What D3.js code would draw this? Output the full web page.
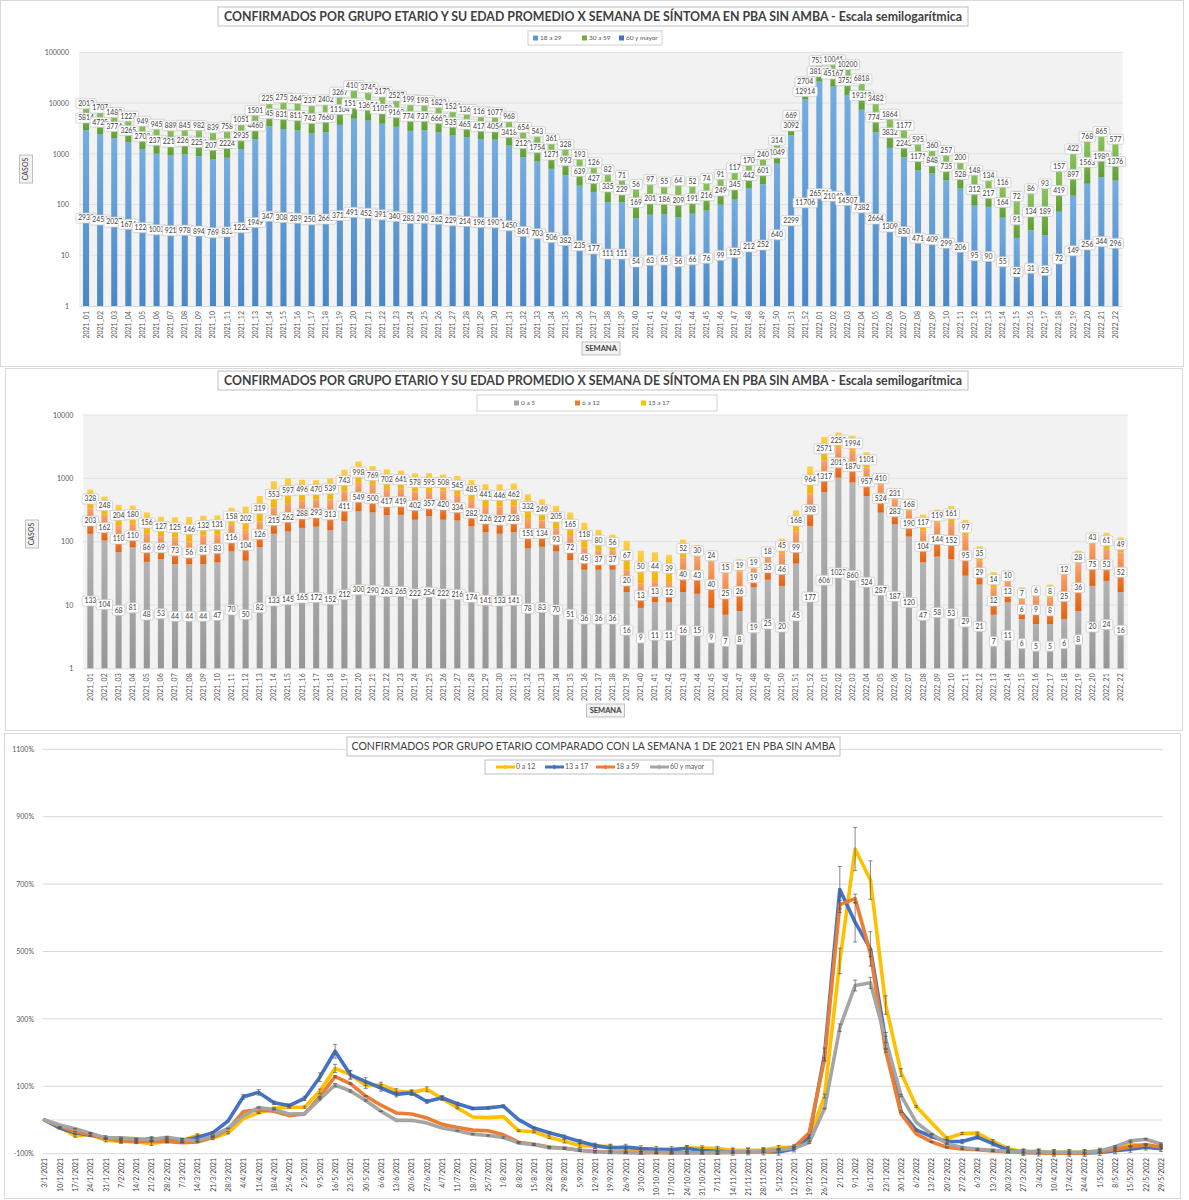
<!DOCTYPE html>
<html>
<head>
<meta charset="utf-8">
<script src="https://cdn.jsdelivr.net/npm/d3@7"></script>
<style>
body { margin: 0; background: #fff; }
svg { display: block; font-family: Lato, "Open Sans", sans-serif; }
</style>
</head>
<body>
<div id="chart"></div>
<script>
var weeks = ["2021_01","2021_02","2021_03","2021_04","2021_05","2021_06","2021_07","2021_08","2021_09","2021_10",
  "2021_11","2021_12","2021_13","2021_14","2021_15","2021_16","2021_17","2021_18","2021_19","2021_20",
  "2021_21","2021_22","2021_23","2021_24","2021_25","2021_26","2021_27","2021_28","2021_29","2021_30",
  "2021_31","2021_32","2021_33","2021_34","2021_35","2021_36","2021_37","2021_38","2021_39","2021_40",
  "2021_41","2021_42","2021_43","2021_44","2021_45","2021_46","2021_47","2021_48","2021_49","2021_50",
  "2021_51","2021_52","2022_01","2022_02","2022_03","2022_04","2022_05","2022_06","2022_07","2022_08",
  "2022_09","2022_10","2022_11","2022_12","2022_13","2022_14","2022_15","2022_16","2022_17","2022_18",
  "2022_19","2022_20","2022_21","2022_22"];

var fechas = ["3/1/2021","10/1/2021","17/1/2021","24/1/2021","31/1/2021","7/2/2021","14/2/2021","21/2/2021","28/2/2021","7/3/2021",
  "14/3/2021","21/3/2021","28/3/2021","4/4/2021","11/4/2021","18/4/2021","25/4/2021","2/5/2021","9/5/2021","16/5/2021",
  "23/5/2021","30/5/2021","6/6/2021","13/6/2021","20/6/2021","27/6/2021","4/7/2021","11/7/2021","18/7/2021","25/7/2021",
  "1/8/2021","8/8/2021","15/8/2021","22/8/2021","29/8/2021","5/9/2021","12/9/2021","19/9/2021","26/9/2021","3/10/2021",
  "10/10/2021","17/10/2021","24/10/2021","31/10/2021","7/11/2021","14/11/2021","21/11/2021","28/11/2021","5/12/2021","12/12/2021",
  "19/12/2021","26/12/2021","2/1/2022","9/1/2022","16/1/2022","23/1/2022","30/1/2022","6/2/2022","13/2/2022","20/2/2022",
  "27/2/2022","6/3/2022","13/3/2022","20/3/2022","27/3/2022","3/4/2022","10/4/2022","17/4/2022","24/4/2022","1/5/2022",
  "8/5/2022","15/5/2022","22/5/2022","29/5/2022"];

// casos por grupo (grafico 1)
var g18a29 = [2933,2456,2027,1674,1224,1003,921,978,894,769,
  833,1222,1949,3471,3082,2893,2504,2662,3713,4915,
  4521,3912,3405,2834,2903,2624,2295,2143,1961,1903,
  1450,861,703,506,382,235,177,111,111,54,
  63,65,56,66,76,99,125,212,252,640,
  2299,11706,26521,21043,14507,7382,2664,1309,850,471,
  409,299,206,95,90,55,22,31,25,72,
  149,256,344,296];
var g30a59 = [5814,4725,3774,3265,2703,2375,2216,2263,2254,2075,
  2224,2935,4460,7451,8315,8112,7421,7660,11104,15123,
  13654,11058,9163,7742,7375,6663,5351,4652,4173,4054,
  3418,2123,1754,1271,993,639,427,335,229,169,
  201,186,209,191,216,249,345,442,601,1049,
  3092,12914,38142,45167,37521,19312,7743,3832,2243,1171,
  848,735,528,312,217,164,91,134,189,419,
  897,1563,1989,1376];
var g60ymas = [2013,1707,1483,1227,949,945,889,845,982,839,
  758,1051,1501,2253,2751,2643,2371,2402,3267,4103,
  3745,3172,2527,1995,1984,1823,1524,1366,1162,1077,
  968,654,543,361,328,193,126,82,71,56,
  97,55,64,52,74,91,117,170,240,314,
  669,2704,7534,10041,10200,6818,3482,1864,1177,595,
  360,257,200,148,134,116,72,86,93,157,
  422,768,865,577];

// casos por grupo (grafico 2)
var g0a5 = [133,104,68,81,48,53,44,44,44,47,
  70,50,82,133,145,165,172,152,212,300,
  290,263,265,222,254,222,216,174,141,133,
  141,78,83,70,51,36,36,36,16,9,
  11,11,16,15,9,7,8,19,25,20,
  45,177,606,1023,860,524,287,187,120,47,
  58,53,29,21,7,11,6,5,5,6,
  8,20,24,16];
var g6a12 = [203,162,110,110,86,69,73,56,81,83,
  116,104,126,215,262,288,293,313,411,549,
  500,417,419,402,357,420,334,282,226,227,
  228,151,134,93,72,45,37,37,20,13,
  13,12,40,43,40,25,26,19,35,46,
  99,398,1317,2013,1870,957,524,283,190,104,
  144,152,95,29,12,13,6,9,8,25,
  36,75,53,52];
var g13a17 = [328,248,204,180,156,127,125,146,132,131,
  158,202,319,553,597,496,470,539,743,998,
  769,702,641,578,595,508,545,485,441,446,
  462,332,249,205,165,118,80,56,67,50,
  44,39,52,30,24,15,19,19,18,45,
  168,964,2571,2253,1994,1101,410,231,168,117,
  119,161,97,35,14,10,7,6,8,12,
  28,43,61,49];

// variacion % contra la semana 1 (grafico 3)
var p0a12 = [0,-21,-47,-43,-60,-64,-65,-70,-63,-61,
  -45,-54,-38,4,21,35,38,38,85,153,
  135,102,104,86,82,91,64,36,9,7,
  10,-32,-35,-51,-63,-76,-78,-78,-89,-93,
  -93,-93,-83,-83,-85,-90,-90,-89,-82,-80,
  -57,71,472,804,712,341,141,40,-8,-55,
  -40,-39,-63,-85,-94,-93,-96,-96,-96,-91,
  -87,-72,-77,-80];
var p13a17 = [0,-24,-38,-45,-52,-61,-62,-55,-60,-60,
  -52,-38,-3,69,82,51,43,64,127,204,
  134,114,95,76,81,55,66,48,34,36,
  41,1,-24,-38,-50,-64,-76,-83,-80,-85,
  -87,-88,-84,-91,-93,-95,-94,-94,-95,-86,
  -49,194,684,587,508,236,25,-30,-49,-64,
  -64,-51,-70,-89,-96,-97,-98,-98,-98,-96,
  -91,-87,-81,-85];
var p18a59 = [0,-18,-34,-44,-55,-61,-64,-63,-64,-67,
  -65,-52,-27,25,30,26,13,18,69,129,
  108,71,44,21,18,6,-13,-22,-30,-32,
  -44,-66,-72,-80,-84,-90,-93,-95,-96,-97,
  -97,-97,-97,-97,-97,-96,-95,-93,-90,-81,
  -38,181,639,657,495,205,19,-41,-65,-81,
  -86,-88,-92,-95,-96,-97,-99,-98,-98,-94,
  -88,-79,-73,-81];
var p60ymas = [0,-15,-26,-39,-53,-53,-56,-58,-51,-58,
  -62,-48,-25,12,37,31,18,19,62,104,
  86,58,26,-1,-1,-9,-24,-32,-42,-46,
  -52,-68,-73,-82,-84,-90,-94,-96,-96,-97,
  -95,-97,-97,-97,-96,-95,-94,-92,-88,-84,
  -67,34,274,399,407,239,73,-7,-42,-70,
  -82,-87,-90,-93,-93,-94,-96,-96,-95,-92,
  -79,-62,-57,-71];

var ticks1 = [1, 10, 100, 1000, 10000, 100000];
var ticks2 = [1, 10, 100, 1000, 10000];
var ticks3 = [-100, 100, 300, 500, 700, 900, 1100];

var titulo1 = "CONFIRMADOS POR GRUPO ETARIO Y SU EDAD PROMEDIO X SEMANA DE SÍNTOMA EN PBA SIN AMBA - Escala semilogarítmica";
var titulo3 = "CONFIRMADOS POR GRUPO ETARIO COMPARADO CON LA SEMANA 1 DE 2021 EN PBA SIN AMBA";

var svg = d3.select("#chart").append("svg")
    .attr("width", 1189)
    .attr("height", 1200);
var defs = svg.append("defs");

function grad(id, top, bottom) {
    var lg = defs.append("linearGradient").attr("id", id)
        .attr("x1", 0).attr("y1", 0).attr("x2", 0).attr("y2", 1);
    lg.append("stop").attr("offset", "0%").attr("stop-color", top);
    lg.append("stop").attr("offset", "100%").attr("stop-color", bottom);
}
grad("gBlue", "#74ADE0", "#4A87C6");
grad("gGreen", "#8CC55E", "#5F9E34");
grad("gNavy", "#5580CC", "#3C66B4");
grad("gGray", "#B3B3B3", "#969696");
grad("gOrange", "#F6A46E", "#E4620F");
grad("gYellow", "#FFD04A", "#F2B200");

function boxLabel(g, cx, cy, txt) {
    var lg = g.append("g");
    var r = lg.append("rect");
    var t = lg.append("text")
        .attr("x", cx).attr("y", cy).attr("dy", "0.35em")
        .attr("text-anchor", "middle")
        .attr("font-size", "6.8px")
        .attr("fill", "#404040")
        .text(txt);
    var w = t.node().getComputedTextLength() + 4.6;
    r.attr("x", cx - w / 2).attr("y", cy - 5)
        .attr("width", w).attr("height", 10)
        .attr("rx", 1.5)
        .attr("fill", "#fff")
        .attr("stroke", "#c4c4c4")
        .attr("stroke-width", 0.7);
}

function titleBox(g, cx, cy, w, txt, bold, fs, tl) {
    g.append("rect").attr("x", cx - w / 2).attr("y", cy - 9.5)
        .attr("width", w).attr("height", 19)
        .attr("fill", "#fff").attr("stroke", "#bfbfbf");
    g.append("text").attr("x", cx).attr("y", cy).attr("dy", "0.36em")
        .attr("text-anchor", "middle")
        .attr("font-size", fs)
        .attr("font-weight", bold ? "bold" : "normal")
        .attr("fill", "#404040")
        .attr("textLength", tl)
        .attr("lengthAdjust", "spacingAndGlyphs")
        .text(txt);
}

function stackedPanel(o) {
    var g = svg.append("g");
    g.append("rect").attr("x", o.frame[0]).attr("y", o.frame[1])
        .attr("width", o.frame[2]).attr("height", o.frame[3])
        .attr("fill", "#fff").attr("stroke", "#d9d9d9");

    titleBox(g, 593, o.titleY, 750, titulo1, true, "12.5px", 738);

    // legend
    var lb = o.legend.box;
    g.append("rect").attr("x", lb[0]).attr("y", lb[1]).attr("width", lb[2]).attr("height", lb[3])
        .attr("fill", "#fff").attr("stroke", "#d0d0d0");
    o.series.forEach(function(s, j) {
        var lx = o.legend.x[j], ly = lb[1] + lb[3] / 2;
        g.append("rect").attr("x", lx).attr("y", ly - 2.5).attr("width", 5).attr("height", 5)
            .attr("fill", s.color);
        g.append("text").attr("x", lx + 7).attr("y", ly).attr("dy", "0.35em")
            .attr("font-size", "6.5px").attr("fill", "#595959").text(s.name);
    });

    var x = d3.scaleBand().domain(weeks).range([o.x0, o.x1])
        .paddingInner(0.57).paddingOuter(0.285);
    var y = d3.scaleLog().domain(o.domain).range([o.yb, o.yt]);

    g.append("rect").attr("x", o.x0).attr("y", o.yt)
        .attr("width", o.x1 - o.x0).attr("height", o.yb - o.yt)
        .attr("fill", "#f2f2f2");

    g.selectAll(".grid").data(o.ticks.slice(1)).enter().append("line")
        .attr("x1", o.x0).attr("x2", o.x1)
        .attr("y1", function(d) { return y(d); })
        .attr("y2", function(d) { return y(d); })
        .attr("stroke", "#dde2e8");

    var ya = g.append("g")
        .attr("transform", "translate(" + (o.x0 - 7) + ",0)")
        .call(d3.axisLeft(y).tickValues(o.ticks).tickFormat(d3.format("d")).tickSize(0));
    ya.select(".domain").remove();
    ya.attr("font-family", null).attr("font-size", null);
    ya.selectAll("text").attr("fill", "#595959").style("font-size", "7px");

    var xa = g.append("g")
        .attr("transform", "translate(0," + o.yb + ")")
        .call(d3.axisBottom(x).tickSize(0));
    xa.select(".domain").attr("stroke", "#d9d9d9");
    xa.attr("font-family", null).attr("font-size", null);
    xa.selectAll("text")
        .attr("transform", "rotate(-90)")
        .attr("text-anchor", "end")
        .attr("x", -5).attr("y", 0).attr("dy", "0.35em")
        .attr("fill", "#595959")
        .style("font-size", "7px");

    // stacked segments
    var segs = o.series.map(function() { return []; });
    weeks.forEach(function(w, i) {
        var cum = 0;
        o.series.forEach(function(s, j) {
            var lo = cum, hi = cum + s.values[i];
            cum = hi;
            segs[j].push({ week: w, v: s.values[i], lo: Math.max(lo, o.domain[0]), hi: hi });
        });
    });

    o.series.forEach(function(s, j) {
        g.append("g").selectAll("rect").data(segs[j]).enter().append("rect")
            .attr("x", function(d) { return x(d.week); })
            .attr("width", x.bandwidth())
            .attr("y", function(d) { return y(d.hi); })
            .attr("height", function(d) { return Math.max(0, y(d.lo) - y(d.hi)); })
            .attr("fill", "url(#" + s.grad + ")");
    });

    var lbl = g.append("g");
    o.series.forEach(function(s, j) {
        segs[j].forEach(function(d) {
            var cx = x(d.week) + x.bandwidth() / 2;
            var cy = (y(d.lo) + y(d.hi)) / 2;
            boxLabel(lbl, cx, cy, d.v);
        });
    });

    // axis titles
    var c = o.casos;
    g.append("rect").attr("x", c[0] - 6.5).attr("y", c[1] - 14).attr("width", 13).attr("height", 28)
        .attr("fill", "#f2f2f2").attr("stroke", "#bfbfbf");
    g.append("text").attr("transform", "translate(" + c[0] + "," + c[1] + ") rotate(-90)")
        .attr("text-anchor", "middle").attr("dy", "0.35em")
        .attr("font-size", "7px").attr("fill", "#404040").text("CASOS");
    var sm = o.semana;
    g.append("rect").attr("x", sm[0] - 19).attr("y", sm[1] - 6.5).attr("width", 38).attr("height", 13)
        .attr("fill", "#f2f2f2").attr("stroke", "#bfbfbf");
    g.append("text").attr("x", sm[0]).attr("y", sm[1]).attr("dy", "0.35em")
        .attr("text-anchor", "middle").attr("font-weight", "bold")
        .attr("font-size", "7.5px").attr("fill", "#404040").text("SEMANA");
}

stackedPanel({
    frame: [0.5, 0.5, 1183, 366],
    titleY: 16.5,
    legend: { box: [528, 31, 134, 14], x: [533, 582, 619] },
    x0: 79, x1: 1122.5, yt: 52.3, yb: 306,
    domain: [1, 100000], ticks: ticks1,
    series: [
        { name: "18 a 29", values: g18a29, color: "#5B9BD5", grad: "gBlue" },
        { name: "30 a 59", values: g30a59, color: "#70AD47", grad: "gGreen" },
        { name: "60 y mayor", values: g60ymas, color: "#4472C4", grad: "gNavy" }
    ],
    casos: [26, 169],
    semana: [601, 348.5]
});

stackedPanel({
    frame: [5.5, 368.5, 1177, 362],
    titleY: 380.5,
    legend: { box: [477, 395, 240, 16], x: [514, 575, 641] },
    x0: 83.3, x1: 1127.7, yt: 415, yb: 668.3,
    domain: [1, 10000], ticks: ticks2,
    series: [
        { name: "0 a 5", values: g0a5, color: "#A5A5A5", grad: "gGray" },
        { name: "6 a 12", values: g6a12, color: "#ED7D31", grad: "gOrange" },
        { name: "13 a 17", values: g13a17, color: "#FFC000", grad: "gYellow" }
    ],
    casos: [32, 534],
    semana: [605.5, 710.5]
});

// Grafico 3: lineas
var g3 = svg.append("g");
g3.append("rect").attr("x", 4.5).attr("y", 733.5).attr("width", 1176).attr("height", 465)
    .attr("fill", "#fff").attr("stroke", "#d9d9d9");

var x3 = d3.scalePoint().domain(fechas).range([44.5, 1161]);
var y3 = d3.scaleLinear().domain([-100, 1100]).range([1153.7, 749.3]);

g3.selectAll(".grid").data([-100, 0].concat(ticks3.slice(1))).enter().append("line")
    .attr("x1", 43).attr("x2", 1163)
    .attr("y1", function(d) { return y3(d); })
    .attr("y2", function(d) { return y3(d); })
    .attr("stroke", "#d9d9d9");

var ya3 = g3.append("g")
    .attr("transform", "translate(37,0)")
    .call(d3.axisLeft(y3).tickValues(ticks3).tickFormat(function(d) { return d + "%"; }).tickSize(0));
ya3.select(".domain").remove();
ya3.attr("font-family", null).attr("font-size", null);
ya3.selectAll("text").attr("fill", "#595959").style("font-size", "7px");

var xa3 = g3.append("g")
    .attr("transform", "translate(0,1154)")
    .call(d3.axisBottom(x3).tickSize(0));
xa3.select(".domain").remove();
xa3.attr("font-family", null).attr("font-size", null);
xa3.selectAll("text")
    .attr("transform", "rotate(-90)")
    .attr("text-anchor", "end")
    .attr("x", -4).attr("y", 0).attr("dy", "0.35em")
    .attr("fill", "#404040")
    .style("font-size", "6.8px");

var lineas = [
    { name: "0 a 12", values: p0a12, color: "#FFC000", err: 0.08 },
    { name: "13 a 17", values: p13a17, color: "#4472C4", err: 0.10 },
    { name: "18 a 59", values: p18a59, color: "#ED7D31", err: 0.02 },
    { name: "60 y mayor", values: p60ymas, color: "#A5A5A5", err: 0.04 }
];

var line = d3.line()
    .x(function(d, i) { return x3(fechas[i]); })
    .y(function(d) { return y3(d); });

lineas.forEach(function(s) {
    g3.append("path").datum(s.values)
        .attr("d", line)
        .attr("fill", "none")
        .attr("stroke", s.color)
        .attr("stroke-width", 3.6)
        .attr("stroke-linejoin", "round")
        .attr("stroke-linecap", "round");
});

// barras de error
var eg = g3.append("g").attr("stroke", "#555").attr("stroke-width", 0.7);
lineas.forEach(function(s) {
    s.values.forEach(function(v, i) {
        var e = Math.abs(v) * s.err;
        if (e < 1) return;
        var cx = x3(fechas[i]);
        var ya = y3(v + e), yb = y3(v - e);
        eg.append("line").attr("x1", cx).attr("x2", cx).attr("y1", ya).attr("y2", yb);
        eg.append("line").attr("x1", cx - 2).attr("x2", cx + 2).attr("y1", ya).attr("y2", ya);
        eg.append("line").attr("x1", cx - 2).attr("x2", cx + 2).attr("y1", yb).attr("y2", yb);
    });
});

// titulo y leyenda
g3.append("rect").attr("x", 347).attr("y", 737).attr("width", 493).attr("height", 19)
    .attr("fill", "#fff").attr("stroke", "#bfbfbf");
g3.append("text").attr("x", 593.5).attr("y", 746.5).attr("dy", "0.36em")
    .attr("text-anchor", "middle").attr("font-size", "11px").attr("fill", "#404040")
    .attr("textLength", 484).attr("lengthAdjust", "spacingAndGlyphs")
    .text(titulo3);

g3.append("rect").attr("x", 485).attr("y", 760).attr("width", 228).attr("height", 14)
    .attr("fill", "#fff").attr("stroke", "#bfbfbf");
var legX = [496, 545, 596, 650];
lineas.forEach(function(s, j) {
    var lx = legX[j], ly = 767;
    g3.append("line").attr("x1", lx).attr("x2", lx + 19).attr("y1", ly).attr("y2", ly)
        .attr("stroke", s.color).attr("stroke-width", 3);
    g3.append("path").attr("d", "M" + (lx + 9.5) + "," + (ly - 2.5) + "l2.5,2.5l-2.5,2.5l-2.5,-2.5z")
        .attr("fill", s.color);
    g3.append("text").attr("x", lx + 20).attr("y", ly).attr("dy", "0.35em")
        .attr("font-size", "7px").attr("fill", "#595959").text(s.name);
});
</script>
</body>
</html>
